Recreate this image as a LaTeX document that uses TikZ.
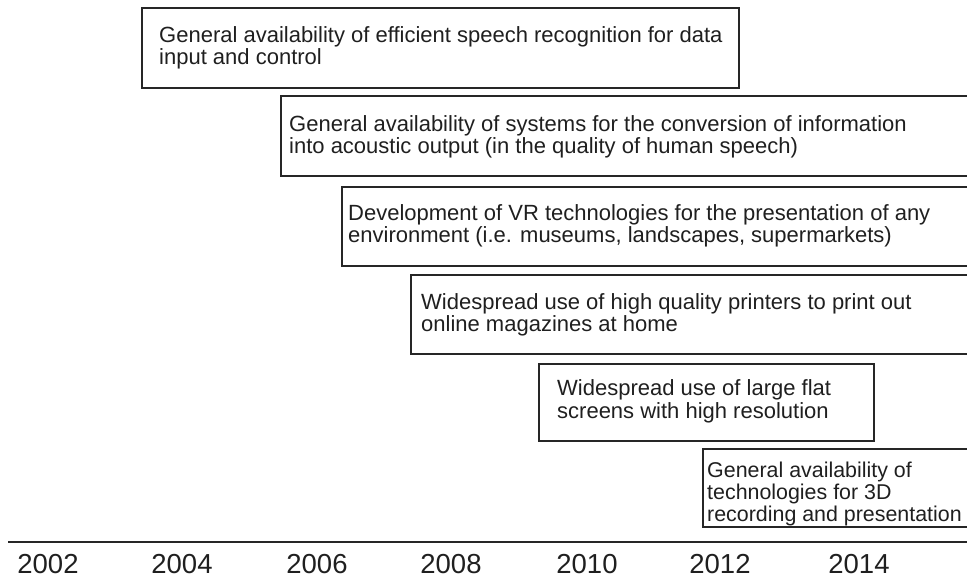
\documentclass[tikz,border=0pt]{standalone}
\usepackage{fontspec}
\setmainfont{Liberation Sans}
\begin{document}
\begin{tikzpicture}[x=1pt,y=-1pt,
  boxline/.style={draw=black!85,line width=1.3pt},
  boxtext/.style={anchor=base west,inner sep=0pt,align=left,text=black!88,
    font=\fontsize{22}{22.5}\selectfont},
  year/.style={anchor=base,inner sep=0pt,text=black!88,font=\fontsize{27.5}{28}\selectfont}]
\useasboundingbox (0,0) rectangle (967,577);
\clip (0,0) rectangle (967,577);
% boxes
\draw[boxline] (142,8) rectangle (739,88);
\draw[boxline] (281,96) rectangle (980,176);
\draw[boxline] (342,187) rectangle (980,266);
\draw[boxline] (411,275) rectangle (980,354);
\draw[boxline] (539,364) rectangle (874,441);
\draw[boxline] (703,449) rectangle (980,527);
% texts (anchor = baseline of last line)
\node[boxtext] (t1) at (159,65) {General availability of efficient speech recognition for data\\input and control};
\node[boxtext] (t2) at (289,154) {General availability of systems for the conversion of information\\into acoustic output (in the quality of human speech)};
\node[boxtext] (t3) at (348,243) {Development of VR technologies for the presentation of any\\environment (i.e. museums, landscapes, supermarkets)};
\node[boxtext] (t4) at (421,332) {Widespread use of high quality printers to print out\\online magazines at home};
\node[boxtext] (t5) at (557,418) {Widespread use of large flat\\screens with high resolution};
\node[boxtext,font=\fontsize{21.4}{22}\selectfont] (t6) at (707,521) {General availability of\\technologies for 3D\\recording and presentation};
% axis
\coordinate (a0) at (8,542);
\coordinate (a1) at (975,542);
\draw[draw=black!85,line width=1.6pt] (a0) -- (a1);
\node[year] (y2002) at (48,573) {2002};
\node[year] (y2004) at (182,573) {2004};
\node[year] (y2006) at (317,573) {2006};
\node[year] (y2008) at (451,573) {2008};
\node[year] (y2010) at (587,573) {2010};
\node[year] (y2012) at (720,573) {2012};
\node[year] (y2014) at (859,573) {2014};
\end{tikzpicture}
\end{document}
